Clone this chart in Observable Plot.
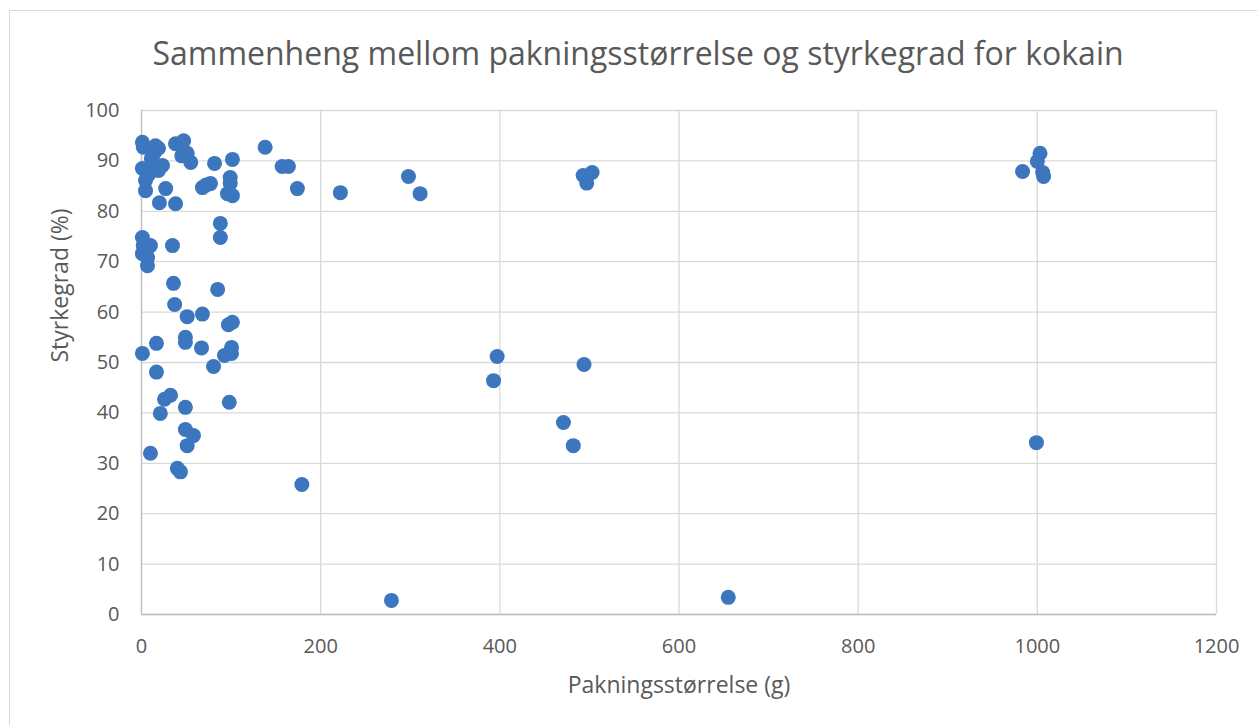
<!DOCTYPE html>
<html><head><meta charset="utf-8">
<script src="https://cdn.jsdelivr.net/npm/d3@7"></script>
<script src="https://cdn.jsdelivr.net/npm/@observablehq/plot@0.6"></script>
<style>
body{margin:0;background:#fff;font-family:"Open Sans",sans-serif;}
#wrap{position:relative;width:1257px;height:725px;overflow:hidden;}
#frame{position:absolute;left:9px;top:10px;width:1300px;height:800px;border:1px solid #d9d9d9;box-sizing:border-box;pointer-events:none;}
#title{position:relative;height:80px;width:1257px;}
#title span{position:absolute;left:638px;top:52px;transform:translate(-50%,-50%);white-space:nowrap;font-size:32px;color:#595959;}
svg{display:block;}
</style></head>
<body><div id="wrap"><div id="frame"></div>
<div id="title"><span id="tt"></span></div>
<div id="chart"></div></div>
<script>
const titleText = "Sammenheng mellom pakningsstørrelse og styrkegrad for kokain";
const xLabel = "Pakningsstørrelse (g)";
const yLabel = "Styrkegrad (%)";
const xTicks = [0, 200, 400, 600, 800, 1000, 1200];
const yTicks = [0, 10, 20, 30, 40, 50, 60, 70, 80, 90, 100];
// package size (g)
const sizes = [1, 2, 15.6, 19, 38, 47, 51, 55, 81.5, 101.5,
  1, 12, 23.4, 19, 4.5, 4.5, 27, 20, 38, 68,
  77, 99, 99, 96, 101.5, 88, 88, 1, 2, 10,
  34.6, 1, 6.7, 6.7, 35.7, 85, 37, 51, 68, 97,
  101.5, 49, 49, 16.7, 67, 1, 100.5, 92.6, 100.5, 80.4,
  16.7, 32.4, 25.7, 49, 98, 21, 49, 58, 51, 10,
  40, 43.5, 138, 157, 164, 174, 72, 222, 179, 279,
  298, 311, 397, 393, 471, 482, 494, 493, 503, 497,
  655, 983.5, 1000, 1003, 1006, 1007, 999, 8, 11, 14, 45];
// strength (%)
const strengths = [93.7, 92.7, 93, 92.5, 93.4, 94, 91.5, 89.7, 89.5, 90.3,
  88.5, 89.1, 89.1, 88.1, 86.1, 84.1, 84.5, 81.7, 81.5, 84.7,
  85.5, 86.7, 85.5, 83.5, 83.1, 77.6, 74.8, 74.8, 73.2, 73.2,
  73.2, 71.6, 70.8, 69.2, 65.7, 64.5, 61.5, 59.1, 59.6, 57.5,
  58, 55, 54, 53.8, 52.9, 51.8, 53, 51.4, 51.8, 49.2,
  48.1, 43.5, 42.7, 41.1, 42.1, 39.9, 36.7, 35.5, 33.5, 32,
  29, 28.3, 92.7, 88.9, 88.9, 84.5, 85.2, 83.7, 25.8, 2.8,
  86.9, 83.5, 51.2, 46.4, 38.1, 33.5, 49.6, 87.1, 87.7, 85.6,
  3.4, 87.9, 89.9, 91.5, 87.7, 86.9, 34.1, 87.3, 90.5, 91.5, 91];
document.getElementById("tt").textContent = titleText;
const data = sizes.map((s, i) => ({size: s, strength: strengths[i]}));
const grey = "#595959";
const chart = Plot.plot({
  width: 1257, height: 645,
  marginLeft: 141, marginRight: 41, marginTop: 30, marginBottom: 111,
  style: {fontFamily: "Open Sans, sans-serif", background: "transparent"},
  x: {domain: [0, 1200]},
  y: {domain: [0, 100]},
  marks: [
    Plot.gridX(xTicks, {stroke: "#d9d9d9", strokeOpacity: 1, strokeWidth: 1.3}),
    Plot.gridY(yTicks, {stroke: "#d9d9d9", strokeOpacity: 1, strokeWidth: 1.3}),
    Plot.ruleX([0], {stroke: "#bfbfbf", strokeWidth: 1.3}),
    Plot.ruleY([0], {stroke: "#bfbfbf", strokeWidth: 1.3}),
    Plot.axisX(xTicks, {tickSize: 0, tickPadding: 24, fontSize: 20, color: grey,
      tickFormat: d => String(d), label: null}),
    Plot.axisY(yTicks, {tickSize: 0, tickPadding: 22, fontSize: 20, color: grey,
      tickFormat: d => String(d), label: null}),
    Plot.text([xLabel], {frameAnchor: "bottom", dy: 78, fontSize: 23, fill: grey, text: d => d}),
    Plot.text([yLabel], {frameAnchor: "left", dx: -81, rotate: -90, fontSize: 23, fill: grey, text: d => d}),
    Plot.dot(data, {x: "size", y: "strength", r: 7.5, fill: "#3b76bf", stroke: "none"})
  ]
});
document.getElementById("chart").appendChild(chart);
</script></body></html>
